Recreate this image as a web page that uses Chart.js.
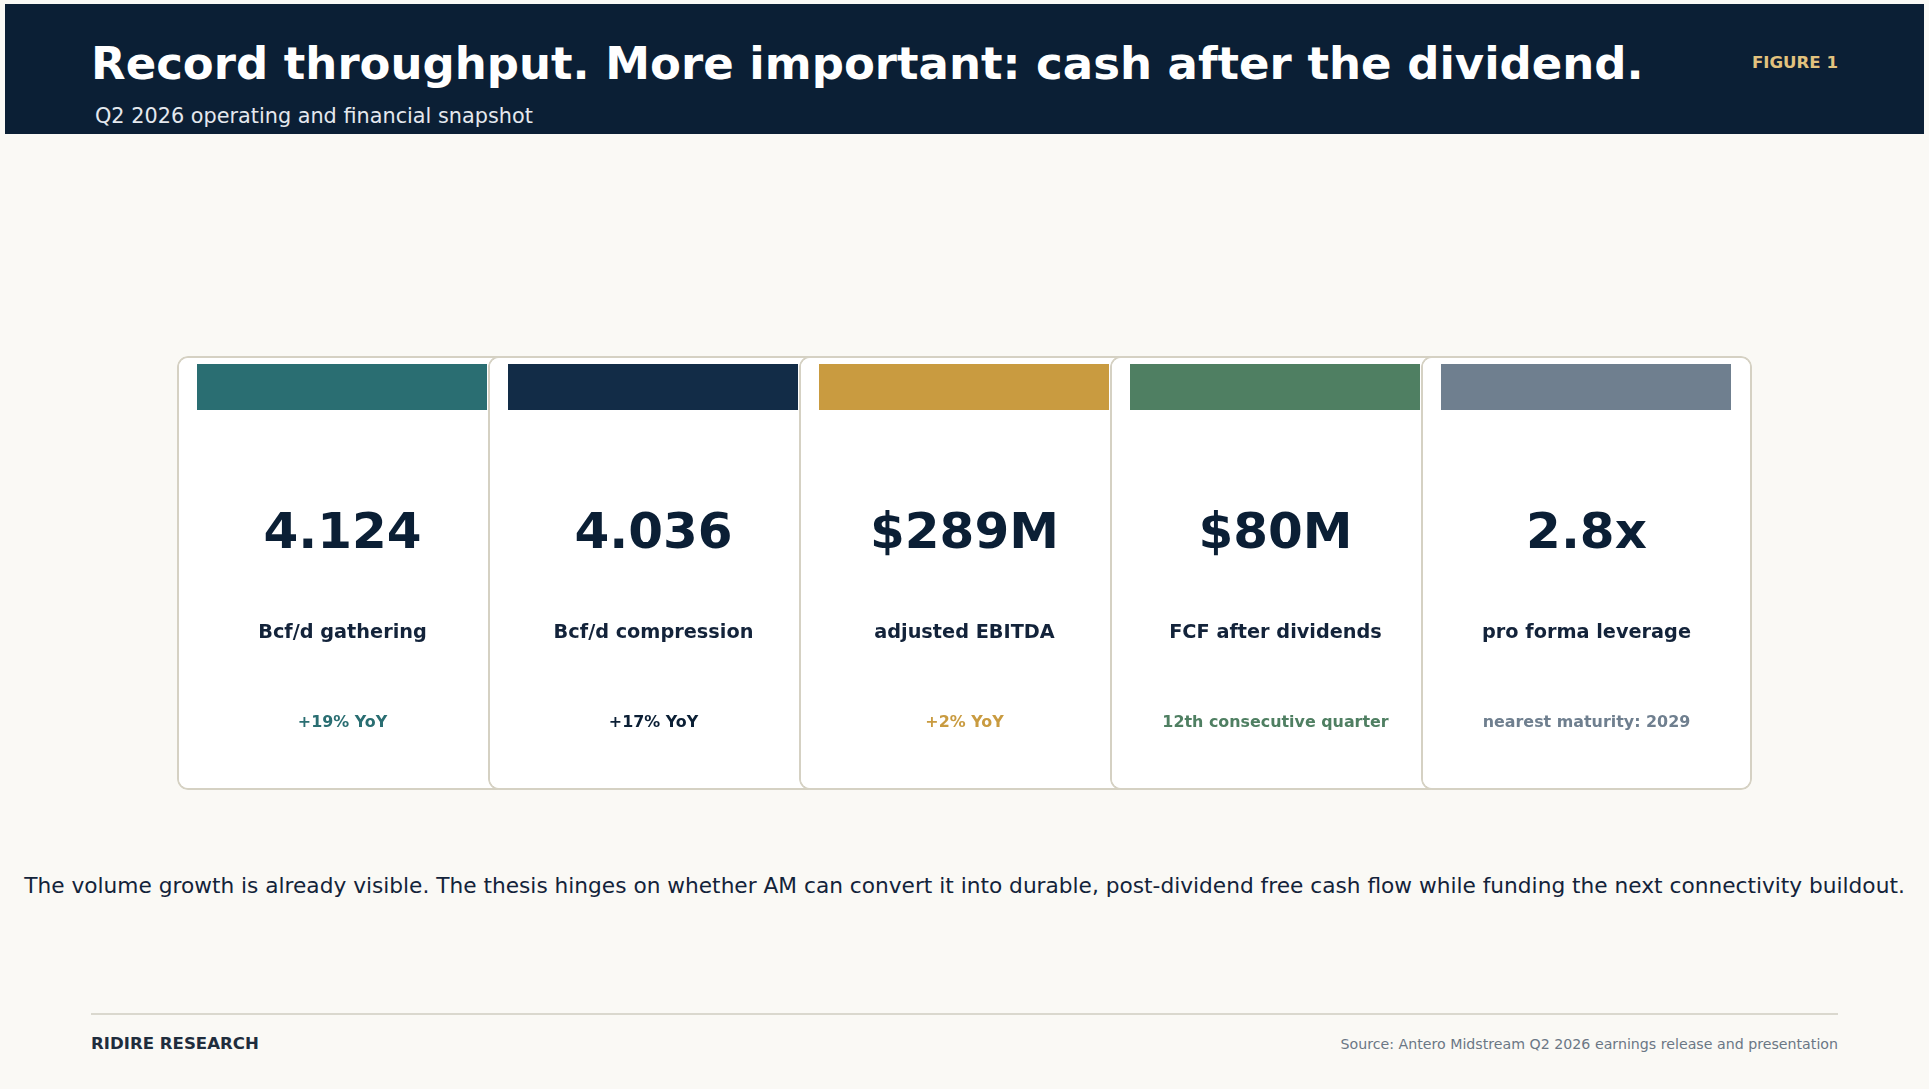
<!DOCTYPE html>
<html>
<head>
<meta charset="utf-8">
<script src="https://cdn.jsdelivr.net/npm/chart.js@4.4.1/dist/chart.umd.min.js"></script>
<style>
  html, body { margin:0; padding:0; background:#FAF9F5; }
  body { width:1929px; height:1089px; position:relative; overflow:hidden; font-family:"DejaVu Sans", sans-serif; }
  .abs { position:absolute; white-space:nowrap; line-height:1; transform:translateY(-50%); }
  #header { position:absolute; left:5px; top:4px; width:1919px; height:130px; background:#0B1F35; }
  #title { left:91px; top:63px; font-size:45px; font-weight:bold; color:#FFFFFF; }
  #subtitle { left:95px; top:116px; font-size:20.8px; color:#E4E8EE; }
  #figure { right:91px; top:63px; font-size:16.6px; font-weight:bold; color:#E2C27E; }
  #body { left:0; width:1929px; text-align:center; top:886px; font-size:21.7px; color:#13233A; }
  #rule { position:absolute; left:91px; top:1013px; width:1747px; height:2px; background:#DAD8CE; }
  #brand { left:91px; top:1044px; font-size:16.6px; font-weight:bold; color:#1F2D3D; }
  #source { right:91px; top:1044px; font-size:14.2px; color:#6B7785; }
  #wrap { position:absolute; left:0; top:337px; width:1929px; height:472px; }
</style>
</head>
<body>
<div id="header"></div>
<div class="abs" id="title"></div>
<div class="abs" id="subtitle"></div>
<div class="abs" id="figure"></div>
<div id="wrap"><canvas id="c" width="1929" height="472"></canvas></div>
<div class="abs" id="body"></div>
<div id="rule"></div>
<div class="abs" id="brand"></div>
<div class="abs" id="source"></div>
<script>
// ---- data ----
const titleText = "Record throughput. More important: cash after the dividend.";
const subtitleText = "Q2 2026 operating and financial snapshot";
const figureText = "FIGURE 1";
const bodyText = "The volume growth is already visible. The thesis hinges on whether AM can convert it into durable, post-dividend free cash flow while funding the next connectivity buildout.";
const brandText = "RIDIRE RESEARCH";
const sourceText = "Source: Antero Midstream Q2 2026 earnings release and presentation";

const categories = ["gathering", "compression", "ebitda", "fcf", "leverage"];
const kpiValues = ["4.124", "4.036", "$289M", "$80M", "2.8x"];
const kpiLabels = ["Bcf/d gathering", "Bcf/d compression", "adjusted EBITDA", "FCF after dividends", "pro forma leverage"];
const kpiNotes = ["+19% YoY", "+17% YoY", "+2% YoY", "12th consecutive quarter", "nearest maturity: 2029"];
const accentColors = ["#2A6E72", "#122C47", "#C99B40", "#4F7F62", "#6F7F8F"];
const noteColors = ["#2A6E72", "#0B1F35", "#C99B40", "#4F7F62", "#6F7F8F"];
const cardSpan = categories.map(() => [0, 1]);

document.getElementById('title').textContent = titleText;
document.getElementById('subtitle').textContent = subtitleText;
document.getElementById('figure').textContent = figureText;
document.getElementById('body').textContent = bodyText;
document.getElementById('brand').textContent = brandText;
document.getElementById('source').textContent = sourceText;

const FONT = '"DejaVu Sans", sans-serif';

const cardContent = {
  id: 'cardContent',
  afterDatasetsDraw(chart) {
    const ctx = chart.ctx;
    const meta = chart.getDatasetMeta(0);
    meta.data.forEach((el, i) => {
      const p = el.getProps(['x', 'y', 'base', 'width'], true);
      const left = p.x - p.width / 2;
      const top = Math.min(p.y, p.base);
      ctx.save();
      ctx.fillStyle = accentColors[i];
      ctx.fillRect(left + 20, top + 8, p.width - 41, 46);
      ctx.textAlign = 'center';
      ctx.textBaseline = 'middle';
      ctx.fillStyle = '#0B1F35';
      ctx.font = 'bold 50px ' + FONT;
      ctx.fillText(kpiValues[i], p.x, top + 179);
      ctx.fillStyle = '#13233A';
      ctx.font = 'bold 19.3px ' + FONT;
      ctx.fillText(kpiLabels[i], p.x, top + 276.5);
      ctx.fillStyle = noteColors[i];
      ctx.font = 'bold 15.9px ' + FONT;
      ctx.fillText(kpiNotes[i], p.x, top + 366.5);
      ctx.restore();
    });
  }
};

new Chart(document.getElementById('c'), {
  type: 'bar',
  data: {
    labels: categories,
    datasets: [{
      data: cardSpan,
      backgroundColor: '#FFFFFF',
      borderColor: '#D5D1C3',
      borderWidth: 2,
      borderRadius: 11,
      borderSkipped: false,
      barPercentage: 1.0643,
      categoryPercentage: 1,
      clip: false
    }]
  },
  options: {
    responsive: false,
    animation: false,
    devicePixelRatio: 1,
    layout: { padding: { left: 187, right: 187, top: 19, bottom: 19 } },
    plugins: { legend: { display: false }, tooltip: { enabled: false } },
    scales: {
      x: { display: false, offset: true },
      y: { display: false, min: 0, max: 1 }
    }
  },
  plugins: [cardContent]
});
</script>
</body>
</html>
